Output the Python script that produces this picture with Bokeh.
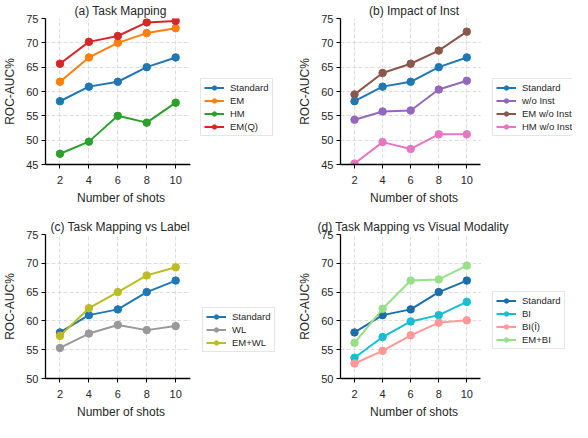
import numpy as np
from bokeh.plotting import figure
from bokeh.models import Legend, LegendItem, FixedTicker, Range1d, BoxAnnotation, Title
from bokeh.layouts import gridplot
from bokeh.embed import file_html
from bokeh.resources import INLINE

# data
shots = [2, 4, 6, 8, 10]
standard = [58, 61, 62, 65, 67]
em = [62, 67, 70, 72, 73]
hm = [47.2, 49.7, 55, 53.6, 57.7]
em_q = [65.7, 70.2, 71.4, 74.2, 74.5]
wo_inst = [54.2, 55.9, 56.1, 60.4, 62.2]
em_wo_inst = [59.4, 63.8, 65.7, 68.4, 72.3]
hm_wo_inst = [45.2, 49.6, 48.2, 51.2, 51.2]
wl = [55.3, 57.8, 59.3, 58.4, 59.1]
em_wl = [57.4, 62.2, 65.0, 67.9, 69.3]
bi = [53.6, 57.2, 59.9, 61.0, 63.3]
bi_hat = [52.6, 54.8, 57.5, 59.7, 60.1]
em_bi = [56.2, 62.1, 67.0, 67.2, 69.6]

FONT = "Liberation Sans"
TXT = "#262626"
XLABEL = "Number of shots"


def make_panel(title, title_w, series, ylo, width, height, top, bottom, left,
               axis_w, leg_x, leg_y):
    # the frame also holds the legend area; the axis only covers x = 1..11
    frame_all = width - left
    x_end = 1 + 10 * frame_all / axis_w
    p = figure(width=width, height=height, x_range=Range1d(1, x_end), y_range=Range1d(ylo, 75),
               output_backend="svg", toolbar_location=None,
               min_border_left=left, min_border_right=0,
               min_border_top=top, min_border_bottom=bottom)
    p.outline_line_color = None
    p.title.text = title
    p.title.align = "left"
    p.title.offset = (axis_w - title_w) / 2
    p.title.text_font = FONT
    p.title.text_font_size = "12px"
    p.title.text_font_style = "normal"
    p.title.text_color = TXT
    p.title.standoff = 2

    p.xaxis.ticker = FixedTicker(ticks=shots)
    p.xaxis.bounds = (1, 11)
    p.yaxis.ticker = FixedTicker(ticks=list(range(ylo, 76, 5)))
    p.yaxis.axis_label = "ROC-AUC%"
    for ax in (p.xaxis, p.yaxis):
        ax.axis_line_color = "black"
        ax.axis_line_width = 1.3
        ax.major_tick_line_color = "black"
        ax.major_tick_out = 4
        ax.major_tick_in = 0
        ax.minor_tick_line_color = None
        ax.major_label_text_font = FONT
        ax.major_label_text_font_size = "11px"
        ax.major_label_text_color = TXT
        ax.axis_label_text_font = FONT
        ax.axis_label_text_font_size = "12px"
        ax.axis_label_text_font_style = "normal"
        ax.axis_label_text_color = TXT
    p.xaxis.major_label_standoff = 7
    p.yaxis.major_label_standoff = 3
    p.yaxis.axis_label_standoff = 6

    # x label as a title below the axis, centred on the axis part only
    xl = Title(text=XLABEL, align="left", offset=(axis_w - 88) / 2, standoff=4,
               text_font=FONT, text_font_size="12px", text_font_style="normal",
               text_color=TXT)
    p.add_layout(xl, "below")

    p.grid.grid_line_color = "#d9d9d9"
    p.grid.grid_line_dash = "4 2"
    p.grid.grid_line_width = 0.9

    items = []
    for label, vals, color in series:
        ln = p.line(shots, vals, line_color=color, line_width=2)
        sc = p.scatter(shots, vals, size=7.5, fill_color=color, line_color=color)
        items.append(LegendItem(label=label, renderers=[ln, sc]))

    # blank out the grid beyond the axis end, where the legend sits
    p.add_layout(BoxAnnotation(left=11, fill_color="white", fill_alpha=1, line_color=None))

    leg = Legend(items=items, location=(axis_w + leg_x, leg_y))
    leg.margin = 0
    leg.padding = 3
    leg.spacing = 2
    leg.glyph_width = 20
    leg.glyph_height = 11
    leg.label_height = 11
    leg.label_standoff = 6
    leg.label_text_font = FONT
    leg.label_text_font_size = "9.5px"
    leg.label_text_color = TXT
    leg.border_line_color = "#cccccc"
    leg.border_line_width = 0.8
    leg.background_fill_alpha = 1
    p.add_layout(leg)
    return p


pa = make_panel("(a) Task Mapping", 93,
                [("Standard", standard, "#1f77b4"), ("EM", em, "#ff7f0e"),
                 ("HM", hm, "#2ca02c"), ("EM(Q)", em_q, "#d62728")],
                45, 295, 216, 15, 52, 34, 151, 4, 28)
pb = make_panel("(b) Impact of Inst", 90,
                [("Standard", standard, "#1f77b4"), ("w/o Inst", wo_inst, "#9467bd"),
                 ("EM w/o Inst", em_wo_inst, "#8c564b"), ("HM w/o Inst", hm_wo_inst, "#e377c2")],
                45, 277, 216, 15, 52, 34, 147, 5, 28)
pc = make_panel("(c) Task Mapping vs Label", 141,
                [("Standard", standard, "#1f77b4"), ("WL", wl, "#999999"),
                 ("EM+WL", em_wl, "#bcbd22")],
                50, 295, 206, 15, 44, 34, 151, 6, 26)
pd_ = make_panel("(d) Task Mapping vs Visual Modality", 193,
                 [("Standard", standard, "#1c6ea8"), ("BI", bi, "#17becf"),
                  ("BI(Î)", bi_hat, "#ff9896"), ("EM+BI", em_bi, "#98df8a")],
                 50, 277, 206, 15, 44, 34, 147, 5, 29)

grid = gridplot([[pa, pb], [pc, pd_]], toolbar_location=None)
open("out.html", "w").write(file_html(grid, INLINE))
